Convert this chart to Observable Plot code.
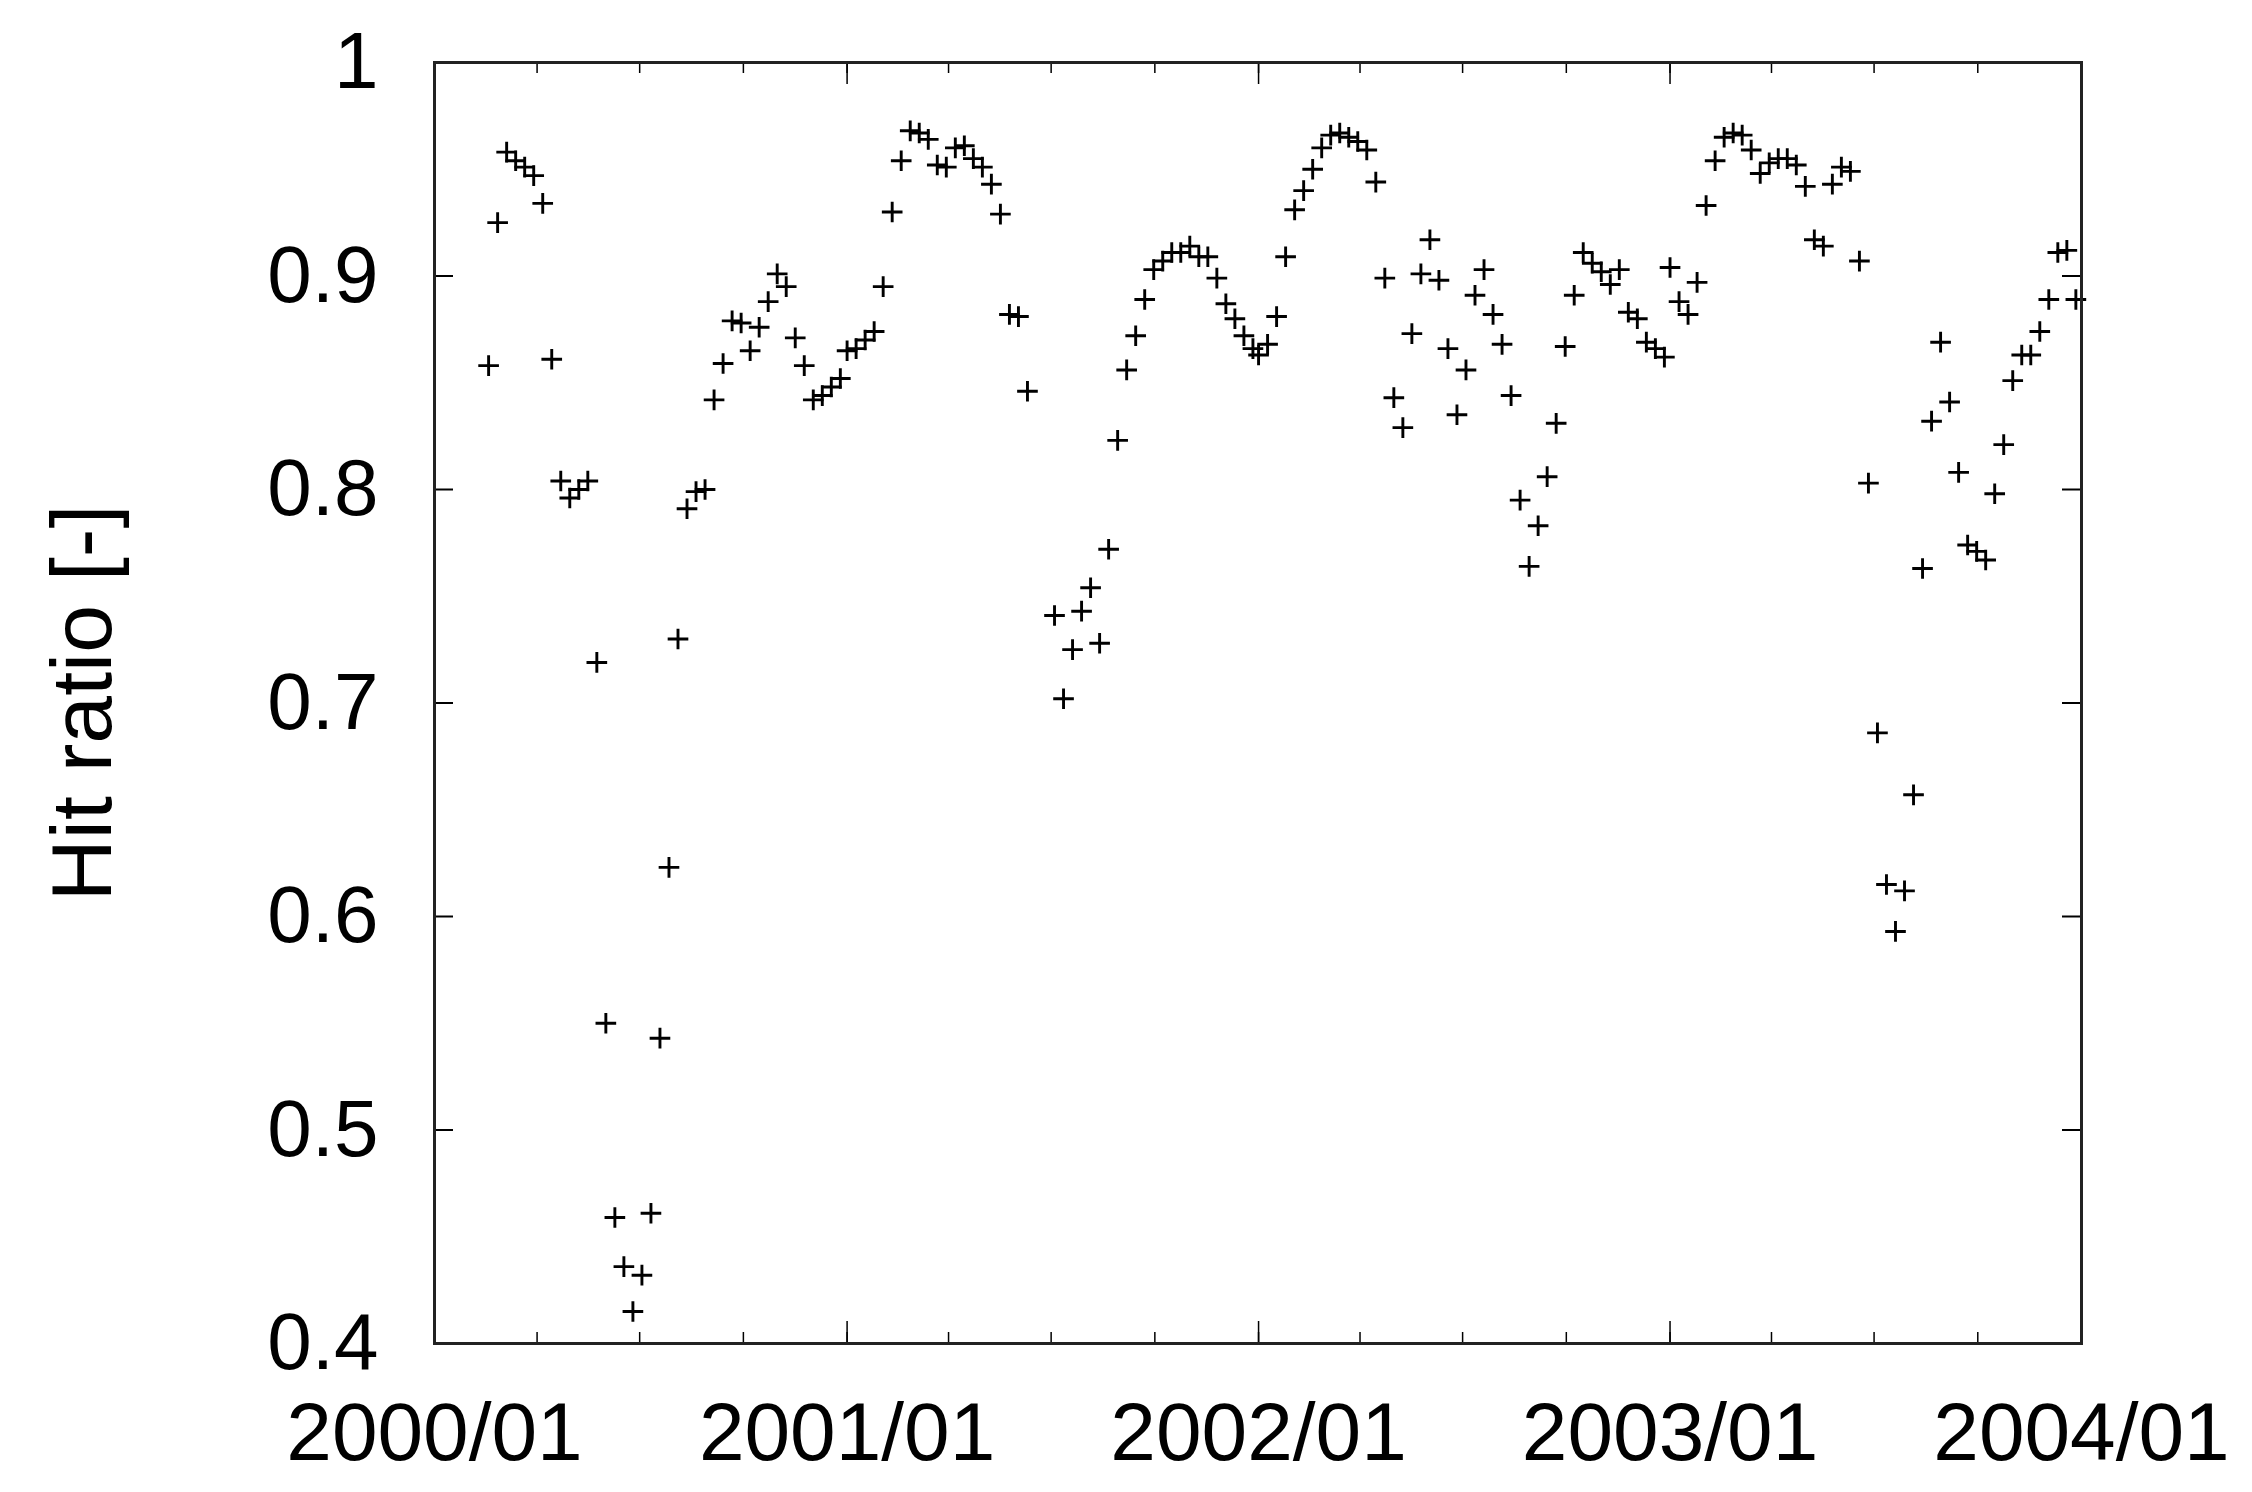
<!DOCTYPE html>
<html>
<head>
<meta charset="utf-8">
<script src="https://cdn.jsdelivr.net/npm/d3@7"></script>
<script src="https://cdn.jsdelivr.net/npm/@observablehq/plot@0.6"></script>
<style>
html, body { margin: 0; padding: 0; background: #fff; }
#chart svg { display: block; }
</style>
</head>
<body>
<div id="chart"></div>
<script>
// 8-day composite dates
const dates = [
  "2000-02-18","2000-02-26","2000-03-05","2000-03-13","2000-03-21","2000-03-29","2000-04-06","2000-04-14",
  "2000-04-22","2000-04-30","2000-05-08","2000-05-16","2000-05-24","2000-06-01","2000-06-09","2000-06-17",
  "2000-06-25","2000-07-03","2000-07-11","2000-07-19","2000-07-27","2000-08-04","2000-08-12","2000-08-20",
  "2000-08-28","2000-09-05","2000-09-13","2000-09-21","2000-09-29","2000-10-07","2000-10-15","2000-10-23",
  "2000-10-31","2000-11-08","2000-11-16","2000-11-24","2000-12-02","2000-12-10","2000-12-18","2000-12-26",
  "2001-01-01","2001-01-09","2001-01-17","2001-01-25","2001-02-02","2001-02-10","2001-02-18","2001-02-26",
  "2001-03-06","2001-03-14","2001-03-22","2001-03-30","2001-04-07","2001-04-15","2001-04-23","2001-05-01",
  "2001-05-09","2001-05-17","2001-05-25","2001-06-02","2001-06-10","2001-07-04","2001-07-12","2001-07-20",
  "2001-07-28","2001-08-05","2001-08-13","2001-08-21","2001-08-29","2001-09-06","2001-09-14","2001-09-22",
  "2001-09-30","2001-10-08","2001-10-16","2001-10-24","2001-11-01","2001-11-09","2001-11-17","2001-11-25",
  "2001-12-03","2001-12-11","2001-12-19","2001-12-27",
  "2002-01-01","2002-01-09","2002-01-17","2002-01-25","2002-02-02","2002-02-10","2002-02-18","2002-02-26",
  "2002-03-06","2002-03-14","2002-03-22","2002-03-30","2002-04-07","2002-04-15","2002-04-23","2002-05-01",
  "2002-05-09","2002-05-17","2002-05-25","2002-06-02","2002-06-10","2002-06-18","2002-06-26","2002-07-04",
  "2002-07-12","2002-07-20","2002-07-28","2002-08-05","2002-08-13","2002-08-21","2002-08-29","2002-09-06",
  "2002-09-14","2002-09-22","2002-09-30","2002-10-08","2002-10-16","2002-10-24","2002-11-01","2002-11-09",
  "2002-11-17","2002-11-25","2002-12-03","2002-12-11","2002-12-19","2002-12-27",
  "2003-01-01","2003-01-09","2003-01-17","2003-01-25","2003-02-02","2003-02-10","2003-02-18","2003-02-26",
  "2003-03-06","2003-03-14","2003-03-22","2003-03-30","2003-04-07","2003-04-15","2003-04-23","2003-05-01",
  "2003-05-09","2003-05-17","2003-05-25","2003-06-02","2003-06-10","2003-06-18","2003-06-26","2003-07-04",
  "2003-07-12","2003-07-20","2003-07-28","2003-08-05","2003-08-13","2003-08-21","2003-08-29","2003-09-06",
  "2003-09-14","2003-09-22","2003-09-30","2003-10-08","2003-10-16","2003-10-24","2003-11-01","2003-11-09",
  "2003-11-17","2003-11-25","2003-12-03","2003-12-11","2003-12-19","2003-12-27"
];

const hitRatio = [
  0.858,0.925,0.958,0.954,0.951,0.947,0.934,0.861,
  0.804,0.796,0.800,0.804,0.719,0.550,0.459,0.436,
  0.415,0.432,0.461,0.543,0.623,0.730,0.791,0.799,
  0.800,0.842,0.859,0.879,0.878,0.865,0.876,0.888,
  0.901,0.895,0.871,0.858,0.842,0.844,0.848,0.852,
  0.865,0.866,0.870,0.874,0.895,0.930,0.954,0.968,
  0.967,0.964,0.952,0.951,0.960,0.961,0.955,0.951,
  0.943,0.929,0.882,0.881,0.846,0.741,0.702,0.725,
  0.743,0.754,0.728,0.772,0.823,0.856,0.872,0.889,
  0.903,0.907,0.911,0.911,0.914,0.909,0.909,0.899,
  0.887,0.880,0.872,0.866,
  0.863,0.868,0.881,0.909,0.931,0.940,0.950,0.960,
  0.966,0.967,0.965,0.963,0.959,0.944,0.899,0.843,
  0.829,0.873,0.901,0.917,0.898,0.866,0.835,0.856,
  0.891,0.903,0.882,0.868,0.844,0.795,0.764,0.783,
  0.806,0.831,0.867,0.891,0.911,0.906,0.902,0.896,
  0.903,0.883,0.880,0.869,0.866,0.862,
  0.904,0.888,0.882,0.897,0.933,0.954,0.965,0.967,
  0.966,0.959,0.948,0.953,0.955,0.955,0.952,0.942,
  0.917,0.914,0.943,0.951,0.949,0.907,0.803,0.686,
  0.615,0.593,0.612,0.657,0.763,0.832,0.869,0.841,
  0.808,0.774,0.771,0.767,0.798,0.821,0.851,0.863,
  0.863,0.874,0.889,0.911,0.912,0.889
];

const yTicks = [0.4, 0.5, 0.6, 0.7, 0.8, 0.9, 1];
const yTickLabels = ["0.4", "0.5", "0.6", "0.7", "0.8", "0.9", "1"];
const xTicks = ["2000-01-01", "2001-01-01", "2002-01-01", "2003-01-01", "2004-01-01"];
const xTickLabels = ["2000/01", "2001/01", "2002/01", "2003/01", "2004/01"];
const xDomain = ["2000-01-01", "2004-01-01"];
const yDomain = [0.4, 1];
const yLabel = "Hit ratio [-]";

const rows = dates.map((d, i) => ({date: new Date(d), value: hitRatio[i]}));
const xTickDates = xTicks.map(d => new Date(d));
const quarterTicks = d3.utcMonth.every(3).range(new Date(xDomain[0]), new Date(xDomain[1]));

const W = 2252, H = 1492;
const mL = 434, mR = 171, mT = 62, mB = 149;
const plotW = W - mL - mR, plotH = H - mT - mB;

const chart = Plot.plot({
  width: W,
  height: H,
  marginLeft: mL,
  marginRight: mR,
  marginTop: mT,
  marginBottom: mB,
  style: {
    fontFamily: "'Liberation Sans', Arial, Helvetica, sans-serif",
    background: "#fff",
    color: "#000"
  },
  x: {type: "utc", domain: xDomain.map(d => new Date(d))},
  y: {domain: yDomain},
  marks: [
    Plot.axisY(yTicks, {
      anchor: "left", tickSize: 0, tickPadding: 56, fontSize: 80, label: null,
      tickFormat: d => yTickLabels[yTicks.indexOf(d)]
    }),
    Plot.axisX(xTickDates, {
      anchor: "bottom", tickSize: 0, tickPadding: 58, fontSize: 82, label: null,
      tickFormat: d => xTickLabels[xTickDates.findIndex(t => +t === +d)]
    }),
    // inward tick marks (gnuplot style, mirrored)
    Plot.tickY(yTicks, {y: d => d, insetRight: plotW - 19, stroke: "#000", strokeWidth: 2}),
    Plot.tickY(yTicks, {y: d => d, insetLeft: plotW - 19, stroke: "#000", strokeWidth: 2}),
    Plot.tickX(quarterTicks, {x: d => d, insetTop: plotH - 11, stroke: "#000", strokeWidth: 1.5}),
    Plot.tickX(quarterTicks, {x: d => d, insetBottom: plotH - 11, stroke: "#000", strokeWidth: 1.5}),
    Plot.tickX(xTickDates, {x: d => d, insetTop: plotH - 22, stroke: "#000", strokeWidth: 1.5}),
    Plot.tickX(xTickDates, {x: d => d, insetBottom: plotH - 22, stroke: "#000", strokeWidth: 1.5}),
    Plot.dot(rows, {x: "date", y: "value", symbol: "plus", r: 6.7, stroke: "#000", strokeWidth: 2.9}),
    Plot.frame({stroke: "#222", strokeWidth: 3}),
    Plot.text([yLabel], {
      text: d => d, frameAnchor: "left", dx: -324, rotate: -90,
      lineAnchor: "bottom", textAnchor: "middle", fontSize: 86, fill: "#000"
    })
  ]
});

document.getElementById("chart").appendChild(chart);
</script>
</body>
</html>
